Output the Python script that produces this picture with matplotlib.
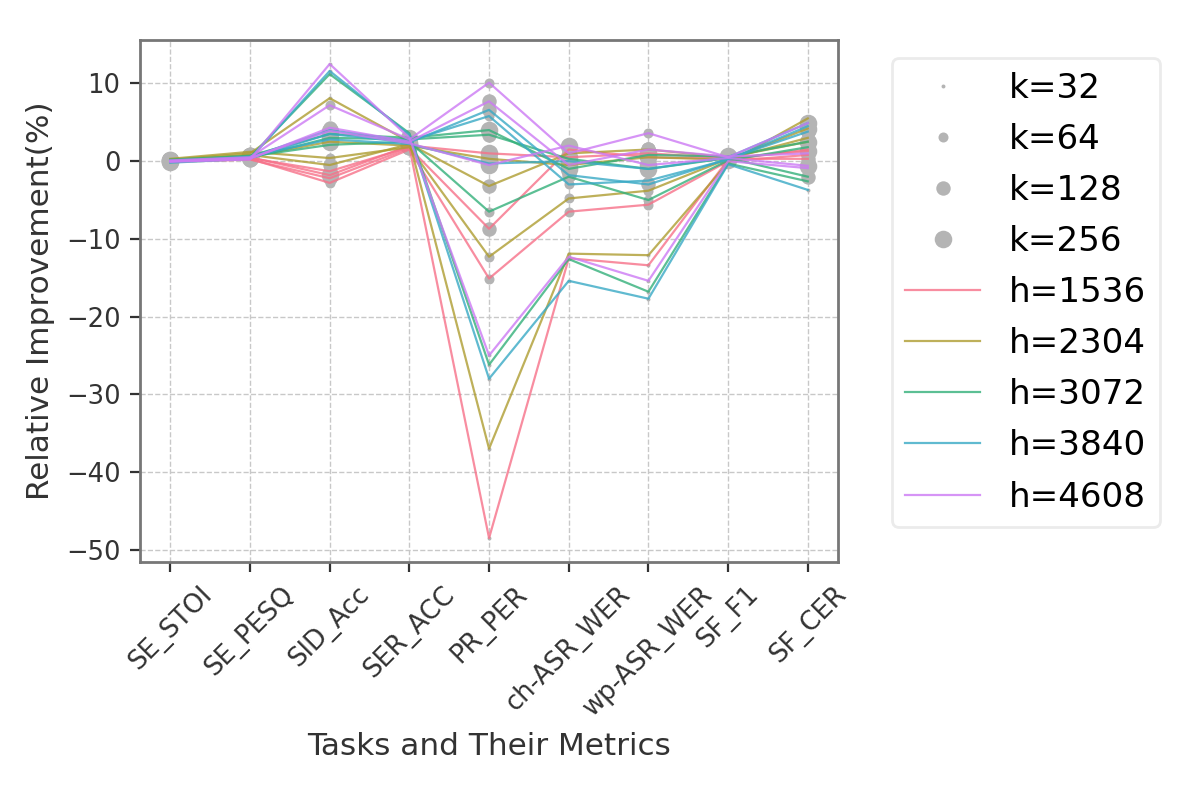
import matplotlib
matplotlib.use("Agg")
import matplotlib.pyplot as plt
from matplotlib.lines import Line2D
import seaborn as sns
import numpy as np

tasks = ["SE_STOI", "SE_PESQ", "SID_Acc", "SER_ACC", "PR_PER",
         "ch-ASR_WER", "wp-ASR_WER", "SF_F1", "SF_CER"]
k_values = [32, 64, 128, 256]
h_values = [1536, 2304, 3072, 3840, 4608]

# relative improvement (%) per h, one row per k (32, 64, 128, 256)
h1536 = [
    [0.1, 0.4, -1.3, 1.8, -48.5, -12.5, -13.4, 0.2, 1.5],
    [0.0, 0.3, -2.8, 1.5, -15.1, -6.5, -5.6, 0.0, 0.8],
    [-0.1, 0.2, -2.2, 1.7, -8.7, 1.5, 0.5, 0.3, 0.3],
    [0.2, 0.5, -1.8, 2.0, 1.0, 0.5, 1.0, 0.4, 1.3],
]
h2304 = [
    [0.2, 1.0, 8.1, 2.5, -37.0, -11.9, -12.1, -0.2, 5.5],
    [0.3, 1.2, 0.4, 1.8, -12.3, -4.8, -3.8, 0.3, 3.0],
    [0.1, 0.8, -0.5, 2.2, -3.2, 1.0, 1.5, 0.5, 2.5],
    [0.0, 0.6, 2.5, 2.0, 0.3, -0.5, 0.5, 0.2, 4.2],
]
h3072 = [
    [-0.1, 0.5, 11.2, 3.6, -26.2, -12.6, -16.8, -0.3, -2.6],
    [0.0, 0.6, 2.1, 2.5, -6.5, -2.0, -5.0, 0.1, 1.8],
    [0.1, 0.4, 3.0, 2.8, 3.4, 0.3, -1.0, 0.4, -2.0],
    [0.2, 0.7, 3.5, 3.0, 4.0, -1.0, 0.8, 0.6, 2.5],
]
h3840 = [
    [-0.2, 0.3, 11.6, 3.4, -28.0, -15.4, -17.7, -0.4, -3.7],
    [0.0, 0.5, 4.0, 2.6, 5.8, -3.0, -2.5, 0.2, 4.5],
    [0.1, 0.4, 3.5, 2.4, 6.6, -1.8, -3.0, 0.3, 3.8],
    [-0.1, 0.6, 2.8, 2.2, -0.3, 0.0, -1.0, 0.5, 4.9],
]
h4608 = [
    [0.0, 0.2, 12.5, 3.0, -25.0, -12.3, -15.4, 0.0, -0.9],
    [0.1, 0.5, 7.2, 2.8, 10.1, 1.0, 3.6, 0.5, 4.9],
    [-0.1, 0.3, 4.3, 2.5, 7.7, -0.5, 1.5, 0.6, 1.0],
    [0.0, 0.4, 3.9, 2.3, -0.5, 2.0, -0.5, 0.4, -0.6],
]
results = [h1536, h2304, h3072, h3840, h4608]

marker_sizes = [2, 13, 27, 40]
colors = sns.color_palette("husl", len(h_values))
grey = "#b4b4b4"

fig = plt.figure(figsize=(6, 4.03), dpi=200)
ax = fig.add_axes([0.1167, 0.303, 0.5817, 0.647])

x = np.arange(len(tasks))

# grey points sized by k
for rows in results:
    for ki, row in enumerate(rows):
        ax.scatter(x, row, s=marker_sizes[ki], color=grey, linewidths=0, zorder=2)

# lines coloured by h
for hi, rows in enumerate(results):
    for row in rows:
        ax.plot(x, row, color=colors[hi], lw=0.8, alpha=0.8, zorder=3)

ax.set_xticks(x)
ax.set_xticklabels(tasks, rotation=45)
ax.set_xlim(-0.38, len(tasks) - 1 + 0.38)
ax.grid(True, linestyle="--", linewidth=0.5, color="#c8c8c8")
ax.set_axisbelow(True)
for sp in ax.spines.values():
    sp.set_color("#777777")
    sp.set_linewidth(1.0)
ax.tick_params(colors="#333333", labelsize=9.3)
ax.set_xlabel("Tasks and Their Metrics", color="#333333", fontsize=11.2)
ax.set_ylabel("Relative Improvement(%)", color="#333333", fontsize=11.2)

handles = []
labels = []
for ki, k in enumerate(k_values):
    handles.append(Line2D([], [], ls="", marker="o", color=grey,
                          markeredgewidth=0, markersize=np.sqrt(marker_sizes[ki])))
    labels.append(f"k={k}")
for hi, h in enumerate(h_values):
    handles.append(Line2D([], [], color=colors[hi], lw=0.8, alpha=0.8))
    labels.append(f"h={h}")
leg = ax.legend(handles, labels, loc="upper left", bbox_to_anchor=(1.077, 0.966),
                borderaxespad=0, fontsize=12.3, labelspacing=0.53, handlelength=2.17,
                handletextpad=0.85, borderpad=0.4)
leg.get_frame().set_edgecolor("#e6e6e6")

fig.savefig("out.png", dpi=200)
